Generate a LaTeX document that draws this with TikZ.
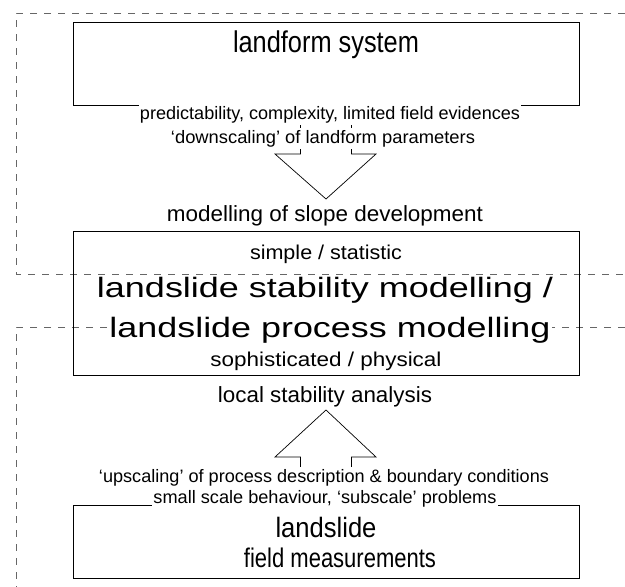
\documentclass[tikz,border=0pt]{standalone}
\usepackage{fontspec}
\setmainfont{Liberation Sans}
\usepackage{graphicx}
% text at a given size, stretched to a given width
\newcommand\fitw[3]{\resizebox{#1pt}{\height}{\fontsize{#2pt}{#2pt}\selectfont #3}}
\begin{document}
\begin{tikzpicture}[x=1pt,y=-1pt,
  region/.style={draw=black!60, line width=0.9pt, dash pattern=on 7pt off 7pt},
  box/.style={draw=black, line width=1pt, minimum width=506pt, inner sep=0pt},
  blockarrow/.style={draw=black, line width=0.7pt},
  lbl/.style={fill=white, inner xsep=1pt, inner ysep=2pt, anchor=base}]
\useasboundingbox (0,0) rectangle (625,587);

% dashed scale domains
\draw[region] (625,13) -- (16,13) -- (16,274) -- (625,274);
\draw[region] (625,327) -- (16,327) -- (16,590);

% boxes
\node[box, minimum height=83pt]  (sys)   at (326,63.5)  {};
\node[box, minimum height=144pt] (model) at (326,303)   {};
\node[box, minimum height=73pt]  (field) at (326,541.5) {};

% downscaling arrow
\coordinate (dtip) at (326,199);
\draw[blockarrow] ([xshift=-25.5pt]sys.south) |- (275,154) -- (dtip)
  -- (376,154) -| ([xshift=25.5pt]sys.south);

% upscaling arrow
\coordinate (utip) at (326,410);
\draw[blockarrow] ([xshift=-25.5pt]field.north) |- (275,457) -- (utip)
  -- (376,457) -| ([xshift=25.5pt]field.north);

% labels
\node[lbl] (t-sys)   at (326,52)  {\fitw{186}{30}{landform system}};
\node[lbl] (t-pred)  at (330,119) {\fitw{380}{18}{predictability, complexity, limited field evidences}};
\node[lbl] (t-down)  at (323,143) {\fitw{304}{18}{‘downscaling’ of landform parameters}};
\node[lbl] (t-slope) at (325,221) {\fitw{316}{22}{modelling of slope development}};
\node[lbl] (t-simp)  at (326,259) {\fitw{152}{20}{simple / statistic}};
\node[lbl] (t-stab)  at (325,297) {\fitw{456}{28}{landslide stability modelling /}};
\node[lbl] (t-proc)  at (330,337) {\fitw{441}{28}{landslide process modelling}};
\node[lbl] (t-soph)  at (326,366) {\fitw{231}{20}{sophisticated / physical}};
\node[lbl] (t-local) at (325,402) {\fitw{214}{22}{local stability analysis}};
\node[lbl] (t-up)    at (324,482) {\fitw{450}{18}{‘upscaling’ of process description \& boundary conditions}};
\node[lbl] (t-small) at (325,503) {\fitw{343}{18}{small scale behaviour, ‘subscale’ problems}};
\node[lbl] (t-ls)    at (326,537) {\fitw{101}{28}{landslide}};
\node[lbl] (t-fm)    at (340,567) {\fitw{192}{27}{field measurements}};
\end{tikzpicture}
\end{document}
